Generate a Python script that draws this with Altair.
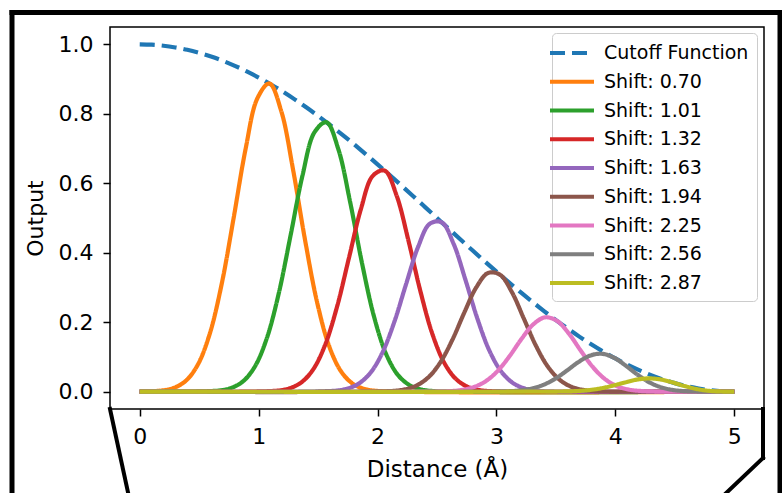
import altair as alt
import pandas as pd

series_names = ["Cutoff Function", "Shift: 0.70", "Shift: 1.01", "Shift: 1.32", "Shift: 1.63",
                "Shift: 1.94", "Shift: 2.25", "Shift: 2.56", "Shift: 2.87"]
series_colors = ["#1f77b4", "#ff7f0e", "#2ca02c", "#d62728", "#9467bd",
                 "#8c564b", "#e377c2", "#7f7f7f", "#bcbd22"]
series_dash = [[15, 7]] + [[1, 0]] * 8

x_ticks = [0, 1, 2, 3, 4, 5]
y_ticks = [0.0, 0.2, 0.4, 0.6, 0.8, 1.0]

# cutoff curve sampled every 0.1 from 0 to 5
cutoff_x = [round(i * 0.1, 1) for i in range(51)]
cutoff_y = [1.0000, 0.9990, 0.9961, 0.9911, 0.9843, 0.9755, 0.9649, 0.9524, 0.9382, 0.9222,
            0.9045, 0.8853, 0.8645, 0.8423, 0.8187, 0.7939, 0.7679, 0.7409, 0.7129, 0.6841,
            0.6545, 0.6244, 0.5937, 0.5627, 0.5314, 0.5000, 0.4686, 0.4373, 0.4063, 0.3757,
            0.3455, 0.3159, 0.2871, 0.2591, 0.2321, 0.2061, 0.1813, 0.1577, 0.1355, 0.1147,
            0.0955, 0.0778, 0.0618, 0.0476, 0.0351, 0.0245, 0.0157, 0.0089, 0.0039, 0.0010,
            0.0000]

# bump curves: sampled every 0.1 around each bump centre
bump_centers = [1.09, 1.57, 2.06, 2.54, 3.03, 3.51, 3.99, 4.48]
bump_offsets = [-0.9, -0.8, -0.7, -0.6, -0.5, -0.4, -0.3, -0.2, -0.1, 0.0,
                0.1, 0.2, 0.3, 0.4, 0.5, 0.6, 0.7, 0.8, 0.9]
bump_070 = [0.0034, 0.0112, 0.0319, 0.0786, 0.1679, 0.3112, 0.5004, 0.6982, 0.8450, 0.8874,
            0.8080, 0.6383, 0.4373, 0.2599, 0.1339, 0.0599, 0.0232, 0.0078, 0.0023]
bump_101 = [0.0033, 0.0107, 0.0300, 0.0732, 0.1549, 0.2841, 0.4522, 0.6241, 0.7471, 0.7757,
            0.6984, 0.5452, 0.3689, 0.2165, 0.1101, 0.0485, 0.0185, 0.0061, 0.0018]
bump_132 = [0.0030, 0.0096, 0.0268, 0.0647, 0.1353, 0.2453, 0.3857, 0.5257, 0.6213, 0.6364,
            0.5650, 0.4347, 0.2897, 0.1673, 0.0836, 0.0362, 0.0136, 0.0044, 0.0012]
bump_163 = [0.0026, 0.0082, 0.0227, 0.0541, 0.1117, 0.1997, 0.3096, 0.4158, 0.4837, 0.4874,
            0.4253, 0.3211, 0.2099, 0.1186, 0.0580, 0.0245, 0.0089, 0.0028, 0.0008]
bump_194 = [0.0021, 0.0066, 0.0179, 0.0420, 0.0853, 0.1498, 0.2280, 0.3001, 0.3418, 0.3366,
            0.2865, 0.2106, 0.1337, 0.0732, 0.0345, 0.0140, 0.0049, 0.0015, 0.0004]
bump_225 = [0.0016, 0.0049, 0.0131, 0.0300, 0.0595, 0.1021, 0.1514, 0.1938, 0.2140, 0.2036,
            0.1668, 0.1175, 0.0710, 0.0368, 0.0163, 0.0061, 0.0020, 0.0005, 0.0001]
bump_256 = [0.0011, 0.0033, 0.0085, 0.0189, 0.0363, 0.0600, 0.0853, 0.1041, 0.1089, 0.0974,
            0.0742, 0.0479, 0.0261, 0.0119, 0.0044, 0.0013, 0.0003, 0.0000, 0.0000]
bump_287 = [0.0006, 0.0018, 0.0045, 0.0096, 0.0173, 0.0265, 0.0346, 0.0381, 0.0351, 0.0266,
            0.0163, 0.0078, 0.0026, 0.0005, 0.0000]
bump_values = [bump_070, bump_101, bump_132, bump_163, bump_194, bump_225, bump_256, bump_287]

rows = []
for xv, yv in zip(cutoff_x, cutoff_y):
    rows.append({"x": xv, "y": yv, "series": series_names[0]})
for name, center, vals in zip(series_names[1:], bump_centers, bump_values):
    rows.append({"x": 0.0, "y": 0.0, "series": name})
    for off, yv in zip(bump_offsets, vals):
        rows.append({"x": round(center + off, 2), "y": yv, "series": name})
    rows.append({"x": 5.0, "y": 0.0, "series": name})
df = pd.DataFrame(rows)

FONT = "DejaVu Sans"

legend = alt.Legend(
    title=None, orient="none", legendX=442, legendY=6,
    symbolType="M-2.2,0L2.2,0", symbolSize=400, symbolStrokeWidth=4,
    labelFont=FONT, labelFontSize=19, labelColor="black", labelOffset=20,
    fillColor="rgba(255,255,255,0.8)", strokeColor="#cccccc", cornerRadius=4,
    padding=8, rowPadding=6.75,
)

lines = alt.Chart(df).mark_line(strokeWidth=4.2, interpolate="catmull-rom").encode(
    x=alt.X("x:Q", scale=alt.Scale(domain=[-0.25, 5.25], nice=False, zero=False),
            axis=alt.Axis(values=x_ticks, format="d", title="Distance (Å)")),
    y=alt.Y("y:Q", scale=alt.Scale(domain=[-0.05, 1.05], nice=False, zero=False),
            axis=alt.Axis(values=y_ticks, format=".1f", title="Output")),
    color=alt.Color("series:N", scale=alt.Scale(domain=series_names, range=series_colors), legend=legend),
    strokeDash=alt.StrokeDash("series:N", scale=alt.Scale(domain=series_names, range=series_dash), legend=legend),
)

one = pd.DataFrame({"a": [0]})

def seg(x1, y1, x2, y2, w):
    return alt.Chart(one).mark_rule(color="black", strokeWidth=w, strokeCap="square").encode(
        x=alt.value(x1), y=alt.value(y1), x2=alt.value(x2), y2=alt.value(y2))

frame = [
    seg(-98, -14.5, 672, -14.5, 5),
    seg(-98, -14.5, -98, 470, 5),
    seg(670, -14.5, 670, 470, 5),
    seg(653, 382, 653, 431, 4),
    seg(653, 431, 612, 470, 4),
    seg(0, 382, 19, 470, 4),
]

chart = alt.layer(lines, *frame).properties(
    width=654, height=382,
    autosize=alt.AutoSizeParams(type="none"),
    padding={"left": 110, "top": 27, "right": 18, "bottom": 84},
).configure_view(
    stroke="black", strokeWidth=1.5
).configure_axis(
    grid=False, domain=False,
    tickColor="black", tickWidth=1.5, tickSize=7,
    labelFont=FONT, labelFontSize=22, labelColor="black", labelPadding=10,
    titleFont=FONT, titleFontSize=22, titleColor="black", titleFontWeight="normal",
).configure_axisX(titlePadding=11, titleFontSize=23).configure_axisY(titlePadding=11)

chart.save("out.html", embed_options={"renderer": "svg", "actions": False})
